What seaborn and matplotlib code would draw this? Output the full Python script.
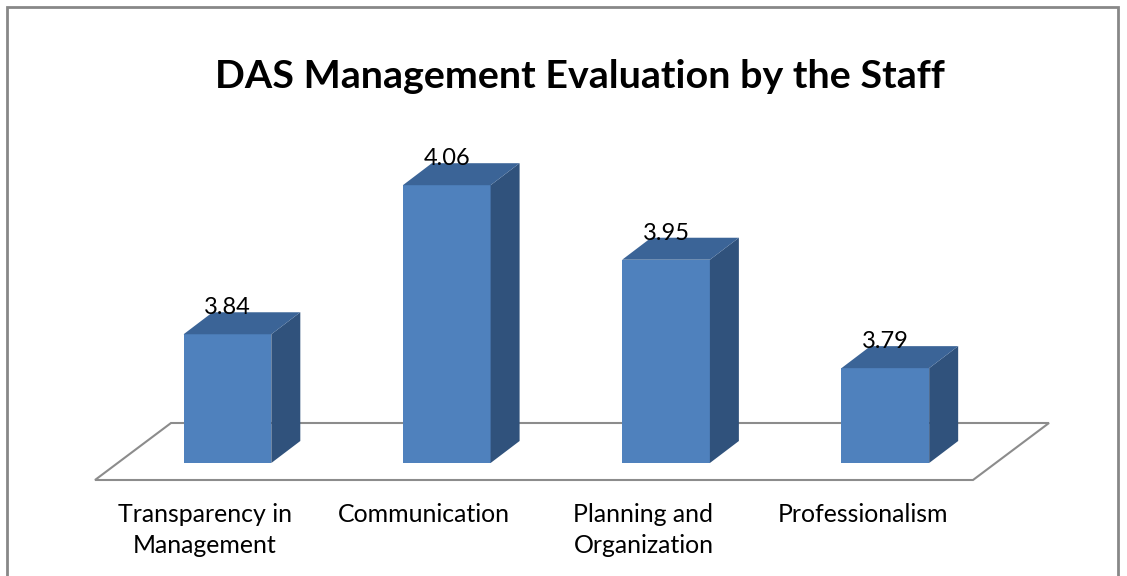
import pandas as pd
import seaborn as sns
import matplotlib.pyplot as plt
import matplotlib.transforms as mtransforms
from matplotlib.patches import Polygon, Rectangle

# data
categories = ["Transparency in\nManagement", "Communication", "Planning and\nOrganization", "Professionalism"]
scores = [3.84, 4.06, 3.95, 3.79]
value_labels = ["3.84", "4.06", "3.95", "3.79"]
title = "DAS Management Evaluation by the Staff"

df = pd.DataFrame({"category": categories, "score": scores})

sns.set_theme(style="white")
plt.rcParams["font.family"] = ["Lato", "DejaVu Sans"]

W, H = 1127, 576
fig = plt.figure(figsize=(W / 100, H / 100), dpi=100)
fig.patch.set_facecolor("white")

# axes box = area of the bar front faces (pixel layout of the original)
left, right, base_px, top_px = 95, 975, 463, 131
ax = fig.add_axes([left / W, (H - base_px) / H, (right - left) / W, (base_px - top_px) / H])
ax.set_facecolor("none")

front_col, side_col, top_col = "#4F81BD", "#30527C", "#3B6497"

sns.barplot(data=df, x="category", y="score", color=front_col, width=0.40,
            saturation=1, ax=ax, zorder=3)
ax.set_xlim(-0.604, 3.409)
ax.set_ylim(3.65, 4.14)

# pixels per data unit -> used for the fake 3d depth
x0l, x1l = ax.get_xlim()
y0l, y1l = ax.get_ylim()
ppx = (right - left) / (x1l - x0l)
ppy = (base_px - top_px) / (y1l - y0l)
dx, dy = 29 / ppx, 22 / ppy
base = y0l

# floor (parallelogram behind the bars)
f_front = base - 17 / ppy
f_len = (973 - left) / ppx
f_dx, f_dy = 76 / ppx, 57 / ppy
floor = [(x0l, f_front), (x0l + f_len, f_front),
         (x0l + f_len + f_dx, f_front + f_dy), (x0l + f_dx, f_front + f_dy)]
ax.add_patch(Polygon(floor, closed=True, facecolor="white", edgecolor="#8C8C8C",
                     lw=1.5, clip_on=False, zorder=1))

for p, lab in zip(ax.patches, value_labels):
    p.set_edgecolor("none")
    xa = p.get_x()
    w = p.get_width()
    top = p.get_y() + p.get_height()
    side = [(xa + w, base), (xa + w, top), (xa + w + dx, top + dy), (xa + w + dx, base + dy)]
    lid = [(xa, top), (xa + w, top), (xa + w + dx, top + dy), (xa + dx, top + dy)]
    ax.add_patch(Polygon(side, closed=True, facecolor=side_col, edgecolor="none",
                         clip_on=False, zorder=3))
    ax.add_patch(Polygon(lid, closed=True, facecolor=top_col, edgecolor="none",
                         clip_on=False, zorder=3))
    ax.text(xa + w / 2, top + 20 / ppy, lab, ha="center", va="baseline",
            fontsize=17, color="black", zorder=5)

ax.set_xlabel("")
ax.set_ylabel("")
ax.set_yticks([])
for s in ax.spines.values():
    s.set_visible(False)
ax.tick_params(axis="x", length=0, pad=29, labelsize=17.9, labelcolor="black")
shift = mtransforms.ScaledTranslation(-0.226, 0, fig.dpi_scale_trans)
for t in ax.get_xticklabels():
    t.set_transform(t.get_transform() + shift)
    t.set_linespacing(1.4)

fig.text(580 / W, 1 - 76 / H, title, ha="center", va="center",
         fontsize=28.4, fontweight="bold", color="black")

# chart border
fig.add_artist(Rectangle((7 / W, -0.05), (1118 - 7) / W, 1 - 7 / H + 0.05,
                         transform=fig.transFigure, fill=False,
                         edgecolor="#888888", lw=2))

fig.savefig("out.png", dpi=100)
